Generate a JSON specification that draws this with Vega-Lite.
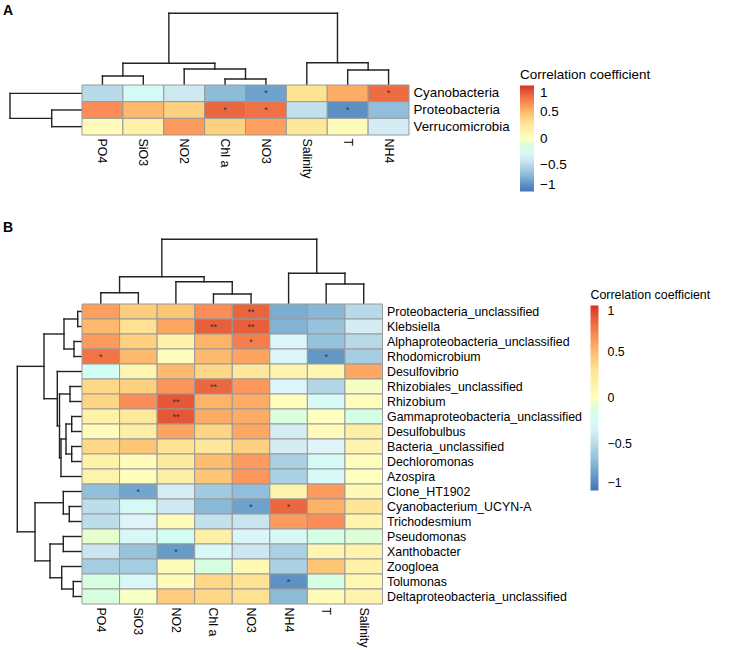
{
  "$schema": "https://vega.github.io/schema/vega-lite/v6.json",
  "background": "white",
  "padding": {"left": 3, "top": 0, "right": 5, "bottom": 3},
  "columns": 2,
  "spacing": 0,
  "bounds": "flush",
  "datasets": {
    "heatA": [
      {"t": "Cyanobacteria", "v": "PO4", "r": -0.5, "s": ""},
      {"t": "Cyanobacteria", "v": "SiO3", "r": -0.25, "s": ""},
      {"t": "Cyanobacteria", "v": "NO2", "r": -0.4, "s": ""},
      {"t": "Cyanobacteria", "v": "Chl a", "r": -0.68, "s": ""},
      {"t": "Cyanobacteria", "v": "NO3", "r": -0.8, "s": "*"},
      {"t": "Cyanobacteria", "v": "Salinity", "r": 0.3, "s": ""},
      {"t": "Cyanobacteria", "v": "T", "r": 0.55, "s": ""},
      {"t": "Cyanobacteria", "v": "NH4", "r": 0.8, "s": "*"},
      {"t": "Proteobacteria", "v": "PO4", "r": 0.67, "s": ""},
      {"t": "Proteobacteria", "v": "SiO3", "r": 0.5, "s": ""},
      {"t": "Proteobacteria", "v": "NO2", "r": 0.4, "s": ""},
      {"t": "Proteobacteria", "v": "Chl a", "r": 0.82, "s": "*"},
      {"t": "Proteobacteria", "v": "NO3", "r": 0.78, "s": "*"},
      {"t": "Proteobacteria", "v": "Salinity", "r": -0.45, "s": ""},
      {"t": "Proteobacteria", "v": "T", "r": -0.88, "s": "*"},
      {"t": "Proteobacteria", "v": "NH4", "r": -0.67, "s": ""},
      {"t": "Verrucomicrobia", "v": "PO4", "r": 0.03, "s": ""},
      {"t": "Verrucomicrobia", "v": "SiO3", "r": 0.15, "s": ""},
      {"t": "Verrucomicrobia", "v": "NO2", "r": 0.62, "s": ""},
      {"t": "Verrucomicrobia", "v": "Chl a", "r": 0.4, "s": ""},
      {"t": "Verrucomicrobia", "v": "NO3", "r": 0.6, "s": ""},
      {"t": "Verrucomicrobia", "v": "Salinity", "r": 0.25, "s": ""},
      {"t": "Verrucomicrobia", "v": "T", "r": 0.05, "s": ""},
      {"t": "Verrucomicrobia", "v": "NH4", "r": -0.38, "s": ""}
    ],
    "heatB": [
      {"t": "Proteobacteria_unclassified", "v": "PO4", "r": 0.6, "s": ""},
      {"t": "Proteobacteria_unclassified", "v": "SiO3", "r": 0.42, "s": ""},
      {"t": "Proteobacteria_unclassified", "v": "NO2", "r": 0.45, "s": ""},
      {"t": "Proteobacteria_unclassified", "v": "Chl a", "r": 0.67, "s": ""},
      {"t": "Proteobacteria_unclassified", "v": "NO3", "r": 0.83, "s": "**"},
      {"t": "Proteobacteria_unclassified", "v": "NH4", "r": -0.75, "s": ""},
      {"t": "Proteobacteria_unclassified", "v": "T", "r": -0.7, "s": ""},
      {"t": "Proteobacteria_unclassified", "v": "Salinity", "r": -0.5, "s": ""},
      {"t": "Klebsiella", "v": "PO4", "r": 0.5, "s": ""},
      {"t": "Klebsiella", "v": "SiO3", "r": 0.32, "s": ""},
      {"t": "Klebsiella", "v": "NO2", "r": 0.57, "s": ""},
      {"t": "Klebsiella", "v": "Chl a", "r": 0.85, "s": "**"},
      {"t": "Klebsiella", "v": "NO3", "r": 0.85, "s": "**"},
      {"t": "Klebsiella", "v": "NH4", "r": -0.72, "s": ""},
      {"t": "Klebsiella", "v": "T", "r": -0.64, "s": ""},
      {"t": "Klebsiella", "v": "Salinity", "r": -0.38, "s": ""},
      {"t": "Alphaproteobacteria_unclassified", "v": "PO4", "r": 0.62, "s": ""},
      {"t": "Alphaproteobacteria_unclassified", "v": "SiO3", "r": 0.4, "s": ""},
      {"t": "Alphaproteobacteria_unclassified", "v": "NO2", "r": 0.15, "s": ""},
      {"t": "Alphaproteobacteria_unclassified", "v": "Chl a", "r": 0.52, "s": ""},
      {"t": "Alphaproteobacteria_unclassified", "v": "NO3", "r": 0.73, "s": "*"},
      {"t": "Alphaproteobacteria_unclassified", "v": "NH4", "r": -0.3, "s": ""},
      {"t": "Alphaproteobacteria_unclassified", "v": "T", "r": -0.65, "s": ""},
      {"t": "Alphaproteobacteria_unclassified", "v": "Salinity", "r": -0.5, "s": ""},
      {"t": "Rhodomicrobium", "v": "PO4", "r": 0.77, "s": "*"},
      {"t": "Rhodomicrobium", "v": "SiO3", "r": 0.5, "s": ""},
      {"t": "Rhodomicrobium", "v": "NO2", "r": 0.02, "s": ""},
      {"t": "Rhodomicrobium", "v": "Chl a", "r": 0.5, "s": ""},
      {"t": "Rhodomicrobium", "v": "NO3", "r": 0.58, "s": ""},
      {"t": "Rhodomicrobium", "v": "NH4", "r": -0.3, "s": ""},
      {"t": "Rhodomicrobium", "v": "T", "r": -0.85, "s": "*"},
      {"t": "Rhodomicrobium", "v": "Salinity", "r": -0.57, "s": ""},
      {"t": "Desulfovibrio", "v": "PO4", "r": -0.22, "s": ""},
      {"t": "Desulfovibrio", "v": "SiO3", "r": 0.1, "s": ""},
      {"t": "Desulfovibrio", "v": "NO2", "r": 0.5, "s": ""},
      {"t": "Desulfovibrio", "v": "Chl a", "r": 0.37, "s": ""},
      {"t": "Desulfovibrio", "v": "NO3", "r": 0.25, "s": ""},
      {"t": "Desulfovibrio", "v": "NH4", "r": 0.12, "s": ""},
      {"t": "Desulfovibrio", "v": "T", "r": 0.1, "s": ""},
      {"t": "Desulfovibrio", "v": "Salinity", "r": 0.57, "s": ""},
      {"t": "Rhizobiales_unclassified", "v": "PO4", "r": 0.37, "s": ""},
      {"t": "Rhizobiales_unclassified", "v": "SiO3", "r": 0.4, "s": ""},
      {"t": "Rhizobiales_unclassified", "v": "NO2", "r": 0.64, "s": ""},
      {"t": "Rhizobiales_unclassified", "v": "Chl a", "r": 0.82, "s": "**"},
      {"t": "Rhizobiales_unclassified", "v": "NO3", "r": 0.63, "s": ""},
      {"t": "Rhizobiales_unclassified", "v": "NH4", "r": -0.3, "s": ""},
      {"t": "Rhizobiales_unclassified", "v": "T", "r": -0.52, "s": ""},
      {"t": "Rhizobiales_unclassified", "v": "Salinity", "r": -0.03, "s": ""},
      {"t": "Rhizobium", "v": "PO4", "r": 0.38, "s": ""},
      {"t": "Rhizobium", "v": "SiO3", "r": 0.67, "s": ""},
      {"t": "Rhizobium", "v": "NO2", "r": 0.88, "s": "**"},
      {"t": "Rhizobium", "v": "Chl a", "r": 0.52, "s": ""},
      {"t": "Rhizobium", "v": "NO3", "r": 0.55, "s": ""},
      {"t": "Rhizobium", "v": "NH4", "r": 0.02, "s": ""},
      {"t": "Rhizobium", "v": "T", "r": -0.27, "s": ""},
      {"t": "Rhizobium", "v": "Salinity", "r": 0.02, "s": ""},
      {"t": "Gammaproteobacteria_unclassified", "v": "PO4", "r": 0.15, "s": ""},
      {"t": "Gammaproteobacteria_unclassified", "v": "SiO3", "r": 0.25, "s": ""},
      {"t": "Gammaproteobacteria_unclassified", "v": "NO2", "r": 0.88, "s": "**"},
      {"t": "Gammaproteobacteria_unclassified", "v": "Chl a", "r": 0.55, "s": ""},
      {"t": "Gammaproteobacteria_unclassified", "v": "NO3", "r": 0.55, "s": ""},
      {"t": "Gammaproteobacteria_unclassified", "v": "NH4", "r": -0.12, "s": ""},
      {"t": "Gammaproteobacteria_unclassified", "v": "T", "r": 0.0, "s": ""},
      {"t": "Gammaproteobacteria_unclassified", "v": "Salinity", "r": -0.15, "s": ""},
      {"t": "Desulfobulbus", "v": "PO4", "r": 0.03, "s": ""},
      {"t": "Desulfobulbus", "v": "SiO3", "r": 0.18, "s": ""},
      {"t": "Desulfobulbus", "v": "NO2", "r": 0.58, "s": ""},
      {"t": "Desulfobulbus", "v": "Chl a", "r": 0.38, "s": ""},
      {"t": "Desulfobulbus", "v": "NO3", "r": 0.57, "s": ""},
      {"t": "Desulfobulbus", "v": "NH4", "r": -0.37, "s": ""},
      {"t": "Desulfobulbus", "v": "T", "r": 0.03, "s": ""},
      {"t": "Desulfobulbus", "v": "Salinity", "r": 0.18, "s": ""},
      {"t": "Bacteria_unclassified", "v": "PO4", "r": 0.37, "s": ""},
      {"t": "Bacteria_unclassified", "v": "SiO3", "r": 0.45, "s": ""},
      {"t": "Bacteria_unclassified", "v": "NO2", "r": 0.3, "s": ""},
      {"t": "Bacteria_unclassified", "v": "Chl a", "r": 0.25, "s": ""},
      {"t": "Bacteria_unclassified", "v": "NO3", "r": 0.4, "s": ""},
      {"t": "Bacteria_unclassified", "v": "NH4", "r": -0.38, "s": ""},
      {"t": "Bacteria_unclassified", "v": "T", "r": -0.32, "s": ""},
      {"t": "Bacteria_unclassified", "v": "Salinity", "r": 0.12, "s": ""},
      {"t": "Dechloromonas", "v": "PO4", "r": 0.15, "s": ""},
      {"t": "Dechloromonas", "v": "SiO3", "r": 0.03, "s": ""},
      {"t": "Dechloromonas", "v": "NO2", "r": 0.22, "s": ""},
      {"t": "Dechloromonas", "v": "Chl a", "r": 0.48, "s": ""},
      {"t": "Dechloromonas", "v": "NO3", "r": 0.62, "s": ""},
      {"t": "Dechloromonas", "v": "NH4", "r": -0.55, "s": ""},
      {"t": "Dechloromonas", "v": "T", "r": -0.25, "s": ""},
      {"t": "Dechloromonas", "v": "Salinity", "r": 0.02, "s": ""},
      {"t": "Azospira", "v": "PO4", "r": 0.13, "s": ""},
      {"t": "Azospira", "v": "SiO3", "r": 0.02, "s": ""},
      {"t": "Azospira", "v": "NO2", "r": 0.17, "s": ""},
      {"t": "Azospira", "v": "Chl a", "r": 0.45, "s": ""},
      {"t": "Azospira", "v": "NO3", "r": 0.63, "s": ""},
      {"t": "Azospira", "v": "NH4", "r": -0.55, "s": ""},
      {"t": "Azospira", "v": "T", "r": -0.27, "s": ""},
      {"t": "Azospira", "v": "Salinity", "r": 0.0, "s": ""},
      {"t": "Clone_HT1902", "v": "PO4", "r": -0.66, "s": ""},
      {"t": "Clone_HT1902", "v": "SiO3", "r": -0.78, "s": "*"},
      {"t": "Clone_HT1902", "v": "NO2", "r": -0.37, "s": ""},
      {"t": "Clone_HT1902", "v": "Chl a", "r": -0.6, "s": ""},
      {"t": "Clone_HT1902", "v": "NO3", "r": -0.67, "s": ""},
      {"t": "Clone_HT1902", "v": "NH4", "r": 0.13, "s": ""},
      {"t": "Clone_HT1902", "v": "T", "r": 0.62, "s": ""},
      {"t": "Clone_HT1902", "v": "Salinity", "r": 0.07, "s": ""},
      {"t": "Cyanobacterium_UCYN-A", "v": "PO4", "r": -0.48, "s": ""},
      {"t": "Cyanobacterium_UCYN-A", "v": "SiO3", "r": -0.25, "s": ""},
      {"t": "Cyanobacterium_UCYN-A", "v": "NO2", "r": -0.4, "s": ""},
      {"t": "Cyanobacterium_UCYN-A", "v": "Chl a", "r": -0.69, "s": ""},
      {"t": "Cyanobacterium_UCYN-A", "v": "NO3", "r": -0.8, "s": "*"},
      {"t": "Cyanobacterium_UCYN-A", "v": "NH4", "r": 0.82, "s": "*"},
      {"t": "Cyanobacterium_UCYN-A", "v": "T", "r": 0.53, "s": ""},
      {"t": "Cyanobacterium_UCYN-A", "v": "Salinity", "r": 0.28, "s": ""},
      {"t": "Trichodesmium", "v": "PO4", "r": -0.48, "s": ""},
      {"t": "Trichodesmium", "v": "SiO3", "r": -0.33, "s": ""},
      {"t": "Trichodesmium", "v": "NO2", "r": 0.05, "s": ""},
      {"t": "Trichodesmium", "v": "Chl a", "r": -0.45, "s": ""},
      {"t": "Trichodesmium", "v": "NO3", "r": -0.43, "s": ""},
      {"t": "Trichodesmium", "v": "NH4", "r": 0.62, "s": ""},
      {"t": "Trichodesmium", "v": "T", "r": 0.67, "s": ""},
      {"t": "Trichodesmium", "v": "Salinity", "r": 0.12, "s": ""},
      {"t": "Pseudomonas", "v": "PO4", "r": -0.07, "s": ""},
      {"t": "Pseudomonas", "v": "SiO3", "r": -0.28, "s": ""},
      {"t": "Pseudomonas", "v": "NO2", "r": -0.22, "s": ""},
      {"t": "Pseudomonas", "v": "Chl a", "r": 0.18, "s": ""},
      {"t": "Pseudomonas", "v": "NO3", "r": -0.3, "s": ""},
      {"t": "Pseudomonas", "v": "NH4", "r": -0.28, "s": ""},
      {"t": "Pseudomonas", "v": "T", "r": -0.15, "s": ""},
      {"t": "Pseudomonas", "v": "Salinity", "r": -0.1, "s": ""},
      {"t": "Xanthobacter", "v": "PO4", "r": -0.42, "s": ""},
      {"t": "Xanthobacter", "v": "SiO3", "r": -0.64, "s": ""},
      {"t": "Xanthobacter", "v": "NO2", "r": -0.83, "s": "*"},
      {"t": "Xanthobacter", "v": "Chl a", "r": -0.28, "s": ""},
      {"t": "Xanthobacter", "v": "NO3", "r": -0.41, "s": ""},
      {"t": "Xanthobacter", "v": "NH4", "r": -0.55, "s": ""},
      {"t": "Xanthobacter", "v": "T", "r": 0.1, "s": ""},
      {"t": "Xanthobacter", "v": "Salinity", "r": 0.13, "s": ""},
      {"t": "Zoogloea", "v": "PO4", "r": -0.57, "s": ""},
      {"t": "Zoogloea", "v": "SiO3", "r": -0.57, "s": ""},
      {"t": "Zoogloea", "v": "NO2", "r": 0.05, "s": ""},
      {"t": "Zoogloea", "v": "Chl a", "r": -0.13, "s": ""},
      {"t": "Zoogloea", "v": "NO3", "r": 0.07, "s": ""},
      {"t": "Zoogloea", "v": "NH4", "r": -0.55, "s": ""},
      {"t": "Zoogloea", "v": "T", "r": 0.45, "s": ""},
      {"t": "Zoogloea", "v": "Salinity", "r": 0.15, "s": ""},
      {"t": "Tolumonas", "v": "PO4", "r": -0.13, "s": ""},
      {"t": "Tolumonas", "v": "SiO3", "r": -0.28, "s": ""},
      {"t": "Tolumonas", "v": "NO2", "r": 0.05, "s": ""},
      {"t": "Tolumonas", "v": "Chl a", "r": 0.37, "s": ""},
      {"t": "Tolumonas", "v": "NO3", "r": 0.3, "s": ""},
      {"t": "Tolumonas", "v": "NH4", "r": -0.87, "s": "*"},
      {"t": "Tolumonas", "v": "T", "r": -0.15, "s": ""},
      {"t": "Tolumonas", "v": "Salinity", "r": 0.08, "s": ""},
      {"t": "Deltaproteobacteria_unclassified", "v": "PO4", "r": -0.13, "s": ""},
      {"t": "Deltaproteobacteria_unclassified", "v": "SiO3", "r": -0.02, "s": ""},
      {"t": "Deltaproteobacteria_unclassified", "v": "NO2", "r": 0.42, "s": ""},
      {"t": "Deltaproteobacteria_unclassified", "v": "Chl a", "r": 0.37, "s": ""},
      {"t": "Deltaproteobacteria_unclassified", "v": "NO3", "r": 0.32, "s": ""},
      {"t": "Deltaproteobacteria_unclassified", "v": "NH4", "r": -0.68, "s": ""},
      {"t": "Deltaproteobacteria_unclassified", "v": "T", "r": 0.04, "s": ""},
      {"t": "Deltaproteobacteria_unclassified", "v": "Salinity", "r": 0.13, "s": ""}
    ],
    "dendTopA": [
      {"p1": 0.5, "p2": 1.5, "h1": 0.9, "h2": 0.9},
      {"p1": 0.5, "p2": 0.5, "h1": 0, "h2": 0.9},
      {"p1": 1.5, "p2": 1.5, "h1": 0, "h2": 0.9},
      {"p1": 3.5, "p2": 4.5, "h1": 0.6, "h2": 0.6},
      {"p1": 3.5, "p2": 3.5, "h1": 0, "h2": 0.6},
      {"p1": 4.5, "p2": 4.5, "h1": 0, "h2": 0.6},
      {"p1": 2.5, "p2": 4.0, "h1": 1.6, "h2": 1.6},
      {"p1": 2.5, "p2": 2.5, "h1": 0, "h2": 1.6},
      {"p1": 4.0, "p2": 4.0, "h1": 0.6, "h2": 1.6},
      {"p1": 1.0, "p2": 3.25, "h1": 2.17, "h2": 2.17},
      {"p1": 1.0, "p2": 1.0, "h1": 0.9, "h2": 2.17},
      {"p1": 3.25, "p2": 3.25, "h1": 1.6, "h2": 2.17},
      {"p1": 6.5, "p2": 7.5, "h1": 1.5, "h2": 1.5},
      {"p1": 6.5, "p2": 6.5, "h1": 0, "h2": 1.5},
      {"p1": 7.5, "p2": 7.5, "h1": 0, "h2": 1.5},
      {"p1": 5.5, "p2": 7.0, "h1": 2.23, "h2": 2.23},
      {"p1": 5.5, "p2": 5.5, "h1": 0, "h2": 2.23},
      {"p1": 7.0, "p2": 7.0, "h1": 1.5, "h2": 2.23},
      {"p1": 2.125, "p2": 6.25, "h1": 7.17, "h2": 7.17},
      {"p1": 2.125, "p2": 2.125, "h1": 2.17, "h2": 7.17},
      {"p1": 6.25, "p2": 6.25, "h1": 2.23, "h2": 7.17}
    ],
    "dendLeftA": [
      {"p1": 1.5, "p2": 2.5, "h1": 2.96, "h2": 2.96},
      {"p1": 1.5, "p2": 1.5, "h1": 0, "h2": 2.96},
      {"p1": 2.5, "p2": 2.5, "h1": 0, "h2": 2.96},
      {"p1": 0.5, "p2": 2.0, "h1": 7.13, "h2": 7.13},
      {"p1": 0.5, "p2": 0.5, "h1": 0, "h2": 7.13},
      {"p1": 2.0, "p2": 2.0, "h1": 2.96, "h2": 7.13}
    ],
    "dendTopB": [
      {"p1": 0.5, "p2": 1.5, "h1": 1.13, "h2": 1.13},
      {"p1": 0.5, "p2": 0.5, "h1": 0, "h2": 1.13},
      {"p1": 1.5, "p2": 1.5, "h1": 0, "h2": 1.13},
      {"p1": 3.5, "p2": 4.5, "h1": 1.0, "h2": 1.0},
      {"p1": 3.5, "p2": 3.5, "h1": 0, "h2": 1.0},
      {"p1": 4.5, "p2": 4.5, "h1": 0, "h2": 1.0},
      {"p1": 2.5, "p2": 4.0, "h1": 2.23, "h2": 2.23},
      {"p1": 2.5, "p2": 2.5, "h1": 0, "h2": 2.23},
      {"p1": 4.0, "p2": 4.0, "h1": 1.0, "h2": 2.23},
      {"p1": 1.0, "p2": 3.25, "h1": 2.73, "h2": 2.73},
      {"p1": 1.0, "p2": 1.0, "h1": 1.13, "h2": 2.73},
      {"p1": 3.25, "p2": 3.25, "h1": 2.23, "h2": 2.73},
      {"p1": 6.5, "p2": 7.5, "h1": 2.0, "h2": 2.0},
      {"p1": 6.5, "p2": 6.5, "h1": 0, "h2": 2.0},
      {"p1": 7.5, "p2": 7.5, "h1": 0, "h2": 2.0},
      {"p1": 5.5, "p2": 7.0, "h1": 3.07, "h2": 3.07},
      {"p1": 5.5, "p2": 5.5, "h1": 0, "h2": 3.07},
      {"p1": 7.0, "p2": 7.0, "h1": 2.0, "h2": 3.07},
      {"p1": 2.125, "p2": 6.25, "h1": 6.47, "h2": 6.47},
      {"p1": 2.125, "p2": 2.125, "h1": 2.73, "h2": 6.47},
      {"p1": 6.25, "p2": 6.25, "h1": 3.07, "h2": 6.47}
    ],
    "dendLeftB": [
      {"p1": 0.5, "p2": 1.5, "h1": 0.36, "h2": 0.36},
      {"p1": 0.5, "p2": 0.5, "h1": 0, "h2": 0.36},
      {"p1": 1.5, "p2": 1.5, "h1": 0, "h2": 0.36},
      {"p1": 2.5, "p2": 3.5, "h1": 0.73, "h2": 0.73},
      {"p1": 2.5, "p2": 2.5, "h1": 0, "h2": 0.73},
      {"p1": 3.5, "p2": 3.5, "h1": 0, "h2": 0.73},
      {"p1": 1.0, "p2": 3.0, "h1": 1.73, "h2": 1.73},
      {"p1": 1.0, "p2": 1.0, "h1": 0.36, "h2": 1.73},
      {"p1": 3.0, "p2": 3.0, "h1": 0.73, "h2": 1.73},
      {"p1": 5.5, "p2": 6.5, "h1": 1.13, "h2": 1.13},
      {"p1": 5.5, "p2": 5.5, "h1": 0, "h2": 1.13},
      {"p1": 6.5, "p2": 6.5, "h1": 0, "h2": 1.13},
      {"p1": 7.5, "p2": 8.5, "h1": 0.96, "h2": 0.96},
      {"p1": 7.5, "p2": 7.5, "h1": 0, "h2": 0.96},
      {"p1": 8.5, "p2": 8.5, "h1": 0, "h2": 0.96},
      {"p1": 9.5, "p2": 10.5, "h1": 0.96, "h2": 0.96},
      {"p1": 9.5, "p2": 9.5, "h1": 0, "h2": 0.96},
      {"p1": 10.5, "p2": 10.5, "h1": 0, "h2": 0.96},
      {"p1": 8.0, "p2": 10.0, "h1": 1.53, "h2": 1.53},
      {"p1": 8.0, "p2": 8.0, "h1": 0.96, "h2": 1.53},
      {"p1": 10.0, "p2": 10.0, "h1": 0.96, "h2": 1.53},
      {"p1": 9.0, "p2": 11.5, "h1": 2.03, "h2": 2.03},
      {"p1": 9.0, "p2": 9.0, "h1": 1.53, "h2": 2.03},
      {"p1": 11.5, "p2": 11.5, "h1": 0, "h2": 2.03},
      {"p1": 6.0, "p2": 10.25, "h1": 2.18, "h2": 2.18},
      {"p1": 6.0, "p2": 6.0, "h1": 1.13, "h2": 2.18},
      {"p1": 10.25, "p2": 10.25, "h1": 2.03, "h2": 2.18},
      {"p1": 4.5, "p2": 8.125, "h1": 2.4, "h2": 2.4},
      {"p1": 4.5, "p2": 4.5, "h1": 0, "h2": 2.4},
      {"p1": 8.125, "p2": 8.125, "h1": 2.18, "h2": 2.4},
      {"p1": 2.0, "p2": 6.3125, "h1": 3.73, "h2": 3.73},
      {"p1": 2.0, "p2": 2.0, "h1": 1.73, "h2": 3.73},
      {"p1": 6.3125, "p2": 6.3125, "h1": 2.4, "h2": 3.73},
      {"p1": 13.5, "p2": 14.5, "h1": 1.2, "h2": 1.2},
      {"p1": 13.5, "p2": 13.5, "h1": 0, "h2": 1.2},
      {"p1": 14.5, "p2": 14.5, "h1": 0, "h2": 1.2},
      {"p1": 12.5, "p2": 14.0, "h1": 1.8, "h2": 1.8},
      {"p1": 12.5, "p2": 12.5, "h1": 0, "h2": 1.8},
      {"p1": 14.0, "p2": 14.0, "h1": 1.2, "h2": 1.8},
      {"p1": 15.5, "p2": 16.5, "h1": 1.8, "h2": 1.8},
      {"p1": 15.5, "p2": 15.5, "h1": 0, "h2": 1.8},
      {"p1": 16.5, "p2": 16.5, "h1": 0, "h2": 1.8},
      {"p1": 18.5, "p2": 19.5, "h1": 0.8, "h2": 0.8},
      {"p1": 18.5, "p2": 18.5, "h1": 0, "h2": 0.8},
      {"p1": 19.5, "p2": 19.5, "h1": 0, "h2": 0.8},
      {"p1": 17.5, "p2": 19.0, "h1": 1.96, "h2": 1.96},
      {"p1": 17.5, "p2": 17.5, "h1": 0, "h2": 1.96},
      {"p1": 19.0, "p2": 19.0, "h1": 0.8, "h2": 1.96},
      {"p1": 16.0, "p2": 18.25, "h1": 3.13, "h2": 3.13},
      {"p1": 16.0, "p2": 16.0, "h1": 1.8, "h2": 3.13},
      {"p1": 18.25, "p2": 18.25, "h1": 1.96, "h2": 3.13},
      {"p1": 13.25, "p2": 17.125, "h1": 4.63, "h2": 4.63},
      {"p1": 13.25, "p2": 13.25, "h1": 1.8, "h2": 4.63},
      {"p1": 17.125, "p2": 17.125, "h1": 3.13, "h2": 4.63},
      {"p1": 4.15625, "p2": 15.1875, "h1": 6.4, "h2": 6.4},
      {"p1": 4.15625, "p2": 4.15625, "h1": 3.73, "h2": 6.4},
      {"p1": 15.1875, "p2": 15.1875, "h1": 4.63, "h2": 6.4}
    ]
  },
  "concat": [
    {
      "width": 78.3, "height": 85,
      "data": {"values": []},
      "mark": "point",
      "encoding": {},
      "title": {"text": "A", "orient": "bottom", "anchor": "start", "fontSize": 14, "fontWeight": "bold", "font": "Liberation Sans", "color": "#000", "baseline": "top", "offset": -81}
    },
    {
      "width": 327, "height": 85,
      "data": {"name": "dendTopA"},
      "mark": {"type": "rule", "color": "#222222", "strokeWidth": 1.4, "strokeCap": "square"},
      "encoding": {
        "x": {"field": "p1", "type": "quantitative", "scale": {"domain": [0, 8], "nice": false, "zero": false}, "axis": null},
        "x2": {"field": "p2"},
        "y": {"field": "h1", "type": "quantitative", "scale": {"domain": [0, 8.5], "nice": false, "zero": false}, "axis": null},
        "y2": {"field": "h2"}
      }
    },
    {
      "width": 78.3, "height": 50,
      "data": {"name": "dendLeftA"},
      "mark": {"type": "rule", "color": "#222222", "strokeWidth": 1.4, "strokeCap": "square"},
      "encoding": {
        "y": {"field": "p1", "type": "quantitative", "scale": {"domain": [0, 3], "nice": false, "zero": false, "reverse": true}, "axis": null},
        "y2": {"field": "p2"},
        "x": {"field": "h1", "type": "quantitative", "scale": {"domain": [0, 7.83], "nice": false, "zero": false, "reverse": true}, "axis": null},
        "x2": {"field": "h2"}
      }
    },
    {
      "width": 327, "height": 50,
      "data": {"name": "heatA"},
      "encoding": {
        "x": {"field": "v", "type": "nominal", "sort": ["PO4", "SiO3", "NO2", "Chl a", "NO3", "Salinity", "T", "NH4"], "scale": {"paddingInner": 0, "paddingOuter": 0},
              "axis": {"orient": "bottom", "title": null, "labelAngle": 90, "labelAlign": "left", "labelBaseline": "middle", "domain": false, "ticks": false, "labelFontSize": 12.4, "labelPadding": 3}},
        "y": {"field": "t", "type": "nominal", "sort": ["Cyanobacteria", "Proteobacteria", "Verrucomicrobia"], "scale": {"paddingInner": 0, "paddingOuter": 0},
              "axis": {"orient": "right", "title": null, "domain": false, "ticks": false, "labelFontSize": 13.3, "labelPadding": 4}}
      },
      "layer": [
        {
          "mark": {"type": "rect", "stroke": "#999999", "strokeWidth": 1},
          "encoding": {
            "color": {"field": "r", "type": "quantitative",
              "scale": {"domain": [-1, -0.6667, -0.3333, 0, 0.3333, 0.6667, 1], "range": ["#4575B4", "#91BFDB", "#E0F3F8", "#FFFFBF", "#FEE090", "#FC8D59", "#D73027"]},
              "legend": {"title": "Correlation coefficient", "orient": "none", "legendX": 438, "legendY": -17, "direction": "vertical", "gradientLength": 106, "gradientThickness": 14, "gradientStrokeWidth": 0, "values": [-1, -0.5, 0, 0.5, 1], "format": ".1~f", "labelFontSize": 13.5, "titleFontSize": 13.5, "titleFontWeight": "normal", "labelOffset": 6, "titlePadding": 4, "titleLimit": 300}}
          }
        },
        {
          "mark": {"type": "text", "fontSize": 9, "color": "#333333", "baseline": "middle"},
          "encoding": {"text": {"field": "s"}}
        }
      ]
    },
    {
      "width": 78.3, "height": 169,
      "data": {"values": []},
      "mark": "point",
      "encoding": {},
      "title": {"text": "B", "orient": "bottom", "anchor": "start", "fontSize": 14, "fontWeight": "bold", "font": "Liberation Sans", "color": "#000", "baseline": "top", "offset": -83}
    },
    {
      "width": 300.5, "height": 169,
      "data": {"name": "dendTopB"},
      "mark": {"type": "rule", "color": "#222222", "strokeWidth": 1.4, "strokeCap": "square"},
      "encoding": {
        "x": {"field": "p1", "type": "quantitative", "scale": {"domain": [0, 8], "nice": false, "zero": false}, "axis": null},
        "x2": {"field": "p2"},
        "y": {"field": "h1", "type": "quantitative", "scale": {"domain": [0, 16.9], "nice": false, "zero": false}, "axis": null},
        "y2": {"field": "h2"}
      }
    },
    {
      "width": 78.3, "height": 300,
      "data": {"name": "dendLeftB"},
      "mark": {"type": "rule", "color": "#222222", "strokeWidth": 1.4, "strokeCap": "square"},
      "encoding": {
        "y": {"field": "p1", "type": "quantitative", "scale": {"domain": [0, 20], "nice": false, "zero": false, "reverse": true}, "axis": null},
        "y2": {"field": "p2"},
        "x": {"field": "h1", "type": "quantitative", "scale": {"domain": [0, 7.83], "nice": false, "zero": false, "reverse": true}, "axis": null},
        "x2": {"field": "h2"}
      }
    },
    {
      "width": 300.5, "height": 300,
      "data": {"name": "heatB"},
      "encoding": {
        "x": {"field": "v", "type": "nominal", "sort": ["PO4", "SiO3", "NO2", "Chl a", "NO3", "NH4", "T", "Salinity"], "scale": {"paddingInner": 0, "paddingOuter": 0},
              "axis": {"orient": "bottom", "title": null, "labelAngle": 90, "labelAlign": "left", "labelBaseline": "middle", "domain": false, "ticks": false, "labelFontSize": 12.4, "labelPadding": 3}},
        "y": {"field": "t", "type": "nominal", "sort": ["Proteobacteria_unclassified", "Klebsiella", "Alphaproteobacteria_unclassified", "Rhodomicrobium", "Desulfovibrio", "Rhizobiales_unclassified", "Rhizobium", "Gammaproteobacteria_unclassified", "Desulfobulbus", "Bacteria_unclassified", "Dechloromonas", "Azospira", "Clone_HT1902", "Cyanobacterium_UCYN-A", "Trichodesmium", "Pseudomonas", "Xanthobacter", "Zoogloea", "Tolumonas", "Deltaproteobacteria_unclassified"], "scale": {"paddingInner": 0, "paddingOuter": 0},
              "axis": {"orient": "right", "title": null, "domain": false, "ticks": false, "labelFontSize": 12.4, "labelPadding": 4}}
      },
      "layer": [
        {
          "mark": {"type": "rect", "stroke": "#999999", "strokeWidth": 1},
          "encoding": {
            "color": {"field": "r", "type": "quantitative",
              "scale": {"domain": [-1, -0.6667, -0.3333, 0, 0.3333, 0.6667, 1], "range": ["#4575B4", "#91BFDB", "#E0F3F8", "#FFFFBF", "#FEE090", "#FC8D59", "#D73027"]},
              "legend": {"title": "Correlation coefficient", "orient": "none", "legendX": 508.5, "legendY": -15, "direction": "vertical", "gradientLength": 185, "gradientThickness": 8, "gradientStrokeWidth": 0, "values": [-1, -0.5, 0, 0.5, 1], "format": ".1~f", "labelFontSize": 12.4, "titleFontSize": 12.4, "titleFontWeight": "normal", "labelOffset": 9, "titlePadding": 4, "titleLimit": 300}}
          }
        },
        {
          "mark": {"type": "text", "fontSize": 9, "color": "#333333", "baseline": "middle"},
          "encoding": {"text": {"field": "s"}}
        }
      ]
    }
  ],
  "resolve": {"scale": {"color": "independent", "x": "independent", "y": "independent"}, "legend": {"color": "independent"}},
  "config": {
    "view": {"stroke": null},
    "font": "Liberation Sans",
    "axis": {"labelColor": "#000000", "labelFont": "Liberation Sans", "labelLimit": 400},
    "legend": {"labelColor": "#000000", "titleColor": "#000000", "labelFont": "Liberation Sans", "titleFont": "Liberation Sans"}
  }
}
